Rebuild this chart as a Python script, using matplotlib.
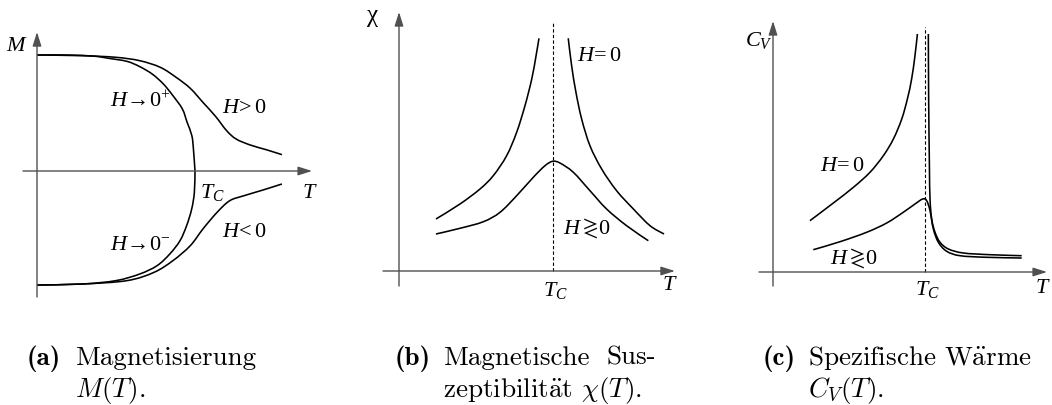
import numpy as np
import matplotlib
matplotlib.use('Agg')
import matplotlib.pyplot as plt
from matplotlib.path import Path
from matplotlib.patches import PathPatch

plt.rcParams['mathtext.fontset'] = 'custom'
plt.rcParams['mathtext.rm'] = 'Liberation Serif'
plt.rcParams['mathtext.it'] = 'Liberation Serif:italic'
plt.rcParams['mathtext.bf'] = 'Liberation Serif:bold'

# (a) magnetisation M(T), T in units of T_C, M in units of M(0)
t_up0 = [0, 0.19, 0.36, 0.46, 0.57, 0.65, 0.73, 0.80, 0.86, 0.92, 0.95, 0.98, 0.99, 1.0]
m_up0 = [1.0, 1.0, 0.99, 0.97, 0.945, 0.90, 0.835, 0.75, 0.65, 0.535, 0.42, 0.305, 0.19, 0.0]
t_dn0 = [0, 0.29, 0.50, 0.65, 0.76, 0.84, 0.905, 0.947, 0.979, 0.996, 1.0]
m_dn0 = [-0.983, -0.974, -0.945, -0.888, -0.816, -0.716, -0.601, -0.471, -0.328, -0.184, 0.0]
t_hpos = [0, 0.29, 0.50, 0.65, 0.78, 0.88, 0.97, 1.05, 1.13, 1.20, 1.26, 1.35, 1.45, 1.55]
m_hpos = [1.0, 0.994, 0.98, 0.951, 0.894, 0.808, 0.713, 0.592, 0.471, 0.348, 0.276, 0.224, 0.184, 0.141]
t_hneg = [0, 0.29, 0.57, 0.74, 0.86, 0.97, 1.05, 1.14, 1.22, 1.31, 1.43, 1.55]
m_hneg = [-0.983, -0.974, -0.945, -0.874, -0.773, -0.644, -0.5, -0.356, -0.256, -0.213, -0.164, -0.112]

# (b) susceptibility chi(T)
t_chi_lo = [0.24, 0.396, 0.526, 0.612, 0.699, 0.764, 0.818, 0.862, 0.89, 0.909]
chi_lo = [0.52, 0.67, 0.82, 0.953, 1.153, 1.387, 1.653, 1.92, 2.153, 2.327]
t_chi_hi = [1.099, 1.121, 1.149, 1.186, 1.24, 1.316, 1.413, 1.522, 1.63, 1.721]
chi_hi = [2.327, 2.053, 1.787, 1.52, 1.253, 1.02, 0.803, 0.62, 0.453, 0.37]
t_chi_h = [0.24, 0.396, 0.548, 0.656, 0.764, 0.872, 0.948, 0.998, 1.045, 1.132, 1.24, 1.348, 1.478, 1.619]
chi_h = [0.37, 0.427, 0.493, 0.587, 0.753, 0.937, 1.053, 1.097, 1.08, 0.987, 0.803, 0.62, 0.453, 0.303]

# (c) specific heat C_V(T)
t_cv_lo = [0.243, 0.397, 0.529, 0.638, 0.726, 0.792, 0.847, 0.884, 0.912, 0.934, 0.95]
cv_lo = [0.513, 0.69, 0.847, 0.997, 1.163, 1.33, 1.53, 1.73, 1.93, 2.163, 2.38]
t_cv_hi = [1.022, 1.024, 1.029, 1.033, 1.044, 1.066, 1.099, 1.154, 1.252, 1.428, 1.636]
cv_hi = [2.38, 1.73, 1.063, 0.73, 0.53, 0.397, 0.297, 0.23, 0.19, 0.173, 0.163]
t_cv_h = [0.265, 0.441, 0.616, 0.748, 0.857, 0.934, 0.985, 1.011, 1.033, 1.055, 1.088, 1.143, 1.23, 1.406, 1.636]
cv_h = [0.223, 0.303, 0.397, 0.49, 0.597, 0.68, 0.73, 0.713, 0.613, 0.43, 0.297, 0.207, 0.163, 0.147, 0.14]

W, H = 1052, 406
fig = plt.figure(figsize=(W / 100, H / 100), dpi=100)

LW = 1.15
AX_COLOR = '#505050'
FS = 16


def panel(x0, y0, sx, sy, left, right):
    # axes whose data units map to pixels: origin (x0, y0), sx/sy pixels per unit
    ax = fig.add_axes([left / W, 0, (right - left) / W, 1])
    ax.set_xlim((left - x0) / sx, (right - x0) / sx)
    ax.set_ylim((y0 - H) / sy, y0 / sy)
    ax.axis('off')
    return ax


def arrow_axes(ax, xa, ya):
    head = dict(arrowstyle='-|>,head_length=0.7,head_width=0.22', color=AX_COLOR,
                lw=1.0, shrinkA=0, shrinkB=0, mutation_scale=12)
    ax.annotate('', xy=(xa[1], 0), xytext=(xa[0], 0), arrowprops=head)
    ax.annotate('', xy=(0, ya[1]), xytext=(0, ya[0]), arrowprops=head)


def curve(ax, t, y):
    # smooth cubic path through the points (Catmull-Rom handles in display space)
    p = ax.transData.transform(np.column_stack([t, y]))
    verts = [p[0]]
    codes = [Path.MOVETO]
    n = len(p)
    for i in range(n - 1):
        p0 = p[i - 1] if i > 0 else p[i]
        p3 = p[i + 2] if i + 2 < n else p[i + 1]
        c1 = p[i] + (p[i + 1] - p0) / 6
        c2 = p[i + 1] - (p3 - p[i]) / 6
        verts += [c1, c2, p[i + 1]]
        codes += [Path.CURVE4] * 3
    verts = ax.transData.inverted().transform(np.array(verts))
    ax.add_patch(PathPatch(Path(verts, codes), fill=False, ec='black', lw=LW,
                           joinstyle='round', capstyle='butt'))


# (a)
ax = panel(37, 172, 158, 116, 0, 355)
arrow_axes(ax, (-0.089, 1.741), (-1.086, 1.198))
curve(ax, t_up0, m_up0)
curve(ax, t_dn0, m_dn0)
curve(ax, t_hpos, m_hpos)
curve(ax, t_hneg, m_hneg)
ax.text(-0.127, 1.095, r'$M$', fontsize=FS, ha='center', va='center')
ax.text(0.462, 0.56, r'$H\!\rightarrow\!0^{+}$', fontsize=FS, ha='left', va='baseline')
ax.text(1.171, 0.51, r'$H\!>0$', fontsize=FS, ha='left', va='baseline')
ax.text(1.171, -0.56, r'$H\!<0$', fontsize=FS, ha='left', va='baseline')
ax.text(0.462, -0.672, r'$H\!\rightarrow\!0^{-}$', fontsize=FS, ha='left', va='baseline')
ax.text(1.03, -0.086, r'$T_C$', fontsize=FS, ha='left', va='top')
ax.text(1.677, -0.086, r'$T$', fontsize=FS, ha='left', va='top')

# (b)
ax = panel(399, 272, 154, 100, 355, 705)
arrow_axes(ax, (-0.104, 1.792), (-0.15, 2.59))
ax.plot([1, 1], [0, 2.5], color='black', lw=0.8, ls=(0, (3, 2)))
curve(ax, t_chi_lo, chi_lo)
curve(ax, t_chi_hi, chi_hi)
curve(ax, t_chi_h, chi_h)
ax.text(-0.175, 2.55, r'$\mathrm{\chi}$', fontsize=FS + 2, ha='center', va='center')
ax.text(1.156, 2.17, r'$H\!=0$', fontsize=FS, ha='left', va='center')
ax.text(1.065, 0.44, r'$H\gtrless\!0$', fontsize=FS, ha='left', va='center')
ax.text(1.013, -0.08, r'$T_C$', fontsize=FS, ha='center', va='top')
ax.text(1.708, -0.02, r'$T$', fontsize=FS, ha='left', va='top')

# (c)
ax = panel(773, 273, 152, 100, 705, 1052)
arrow_axes(ax, (-0.092, 1.803), (-0.14, 2.51))
ax.plot([1, 1], [0, 2.45], color='black', lw=0.8, ls=(0, (3, 2)))
curve(ax, t_cv_lo, cv_lo)
curve(ax, t_cv_hi, cv_hi)
curve(ax, t_cv_h, cv_h)
ax.text(-0.184, 2.43, r'$C_V$', fontsize=FS, ha='left', va='top')
ax.text(0.309, 1.08, r'$H\!=0$', fontsize=FS, ha='left', va='center')
ax.text(0.375, 0.15, r'$H\gtrless\!0$', fontsize=FS, ha='left', va='center')
ax.text(1.013, -0.06, r'$T_C$', fontsize=FS, ha='center', va='top')
ax.text(1.724, -0.04, r'$T$', fontsize=FS, ha='left', va='top')

# sub-captions in Computer Modern
CFS = 19.5


def caption(x, y, s, family='cmr10', ha='left'):
    fig.text(x / W, 1 - y / H, s, fontsize=CFS, family=family, ha=ha,
             va='baseline', math_fontfamily='cm')


caption(27, 365, '(a)', 'cmb10')
caption(75, 365, 'Magnetisierung')
caption(75, 397, r'$M(T)$.')
caption(395, 365, '(b)', 'cmb10')
caption(443, 365, 'Magnetische')
caption(656, 365, 'Sus-', ha='right')
caption(443, 397, r'zeptibilit$\ddot{\mathrm{a}}$t $\chi(T)$.')
caption(763, 365, '(c)', 'cmb10')
caption(808, 365, r'Spezifische W$\ddot{\mathrm{a}}$rme')
caption(808, 397, r'$C_V(T)$.')

fig.savefig('out.png', dpi=100)
